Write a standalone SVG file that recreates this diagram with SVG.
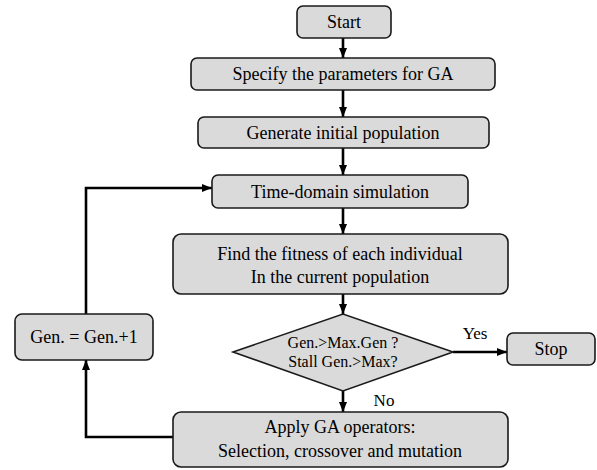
<svg xmlns="http://www.w3.org/2000/svg" width="597" height="470" viewBox="0 0 597 470">
<style>
.box{fill:#dadada;stroke:#1a1a1a;stroke-width:1.6}
.t{font-family:'Liberation Serif','DejaVu Serif',serif;font-size:18px;fill:#000;text-anchor:middle}
.s{font-size:16px}
.l{font-size:17px}
.c{fill:none;stroke:#000;stroke-width:2.6}
</style>
<defs>
<marker id="ah" markerUnits="userSpaceOnUse" markerWidth="10" markerHeight="8" refX="10" refY="4" orient="auto">
<path d="M0,0 L10,4 L0,8 z" fill="#000"/>
</marker>
</defs>
<rect width="597" height="470" fill="#fff"/>
<g id="connectors">
<path class="c" d="M343,38 V58" marker-end="url(#ah)"/>
<path class="c" d="M343,90 V117" marker-end="url(#ah)"/>
<path class="c" d="M343,148 V175" marker-end="url(#ah)"/>
<path class="c" d="M343,208 V234" marker-end="url(#ah)"/>
<path class="c" d="M343,294 V314" marker-end="url(#ah)"/>
<path class="c" d="M343,391 V412" marker-end="url(#ah)"/>
<path class="c" d="M453,352 H507" marker-end="url(#ah)"/>
<path class="c" d="M173,437 H86 V360" marker-end="url(#ah)"/>
<path class="c" d="M86,314 V188 H212" marker-end="url(#ah)"/>
<text class="t l" x="475" y="339" font-family="Liberation Serif, DejaVu Serif, serif">Yes</text>
<text class="t l" x="384" y="406" font-family="Liberation Serif, DejaVu Serif, serif">No</text>
</g>
<g id="start">
<rect class="box" x="297" y="6" width="94" height="32" rx="6"/>
<text class="t" x="344" y="28">Start</text>
</g>
<g id="specify">
<rect class="box" x="191" y="58" width="304" height="32" rx="6"/>
<text class="t" x="343" y="80">Specify the parameters for GA</text>
</g>
<g id="generate">
<rect class="box" x="198" y="117" width="291" height="31" rx="6"/>
<text class="t" x="343" y="138.5">Generate initial population</text>
</g>
<g id="timedomain">
<rect class="box" x="212" y="175" width="256" height="33" rx="6"/>
<text class="t" x="340" y="197.5">Time-domain simulation</text>
</g>
<g id="fitness">
<rect class="box" x="173" y="234" width="335" height="60" rx="8"/>
<text class="t" x="340" y="260">Find the fitness of each individual</text>
<text class="t" x="340" y="283">In the current population</text>
</g>
<g id="decision">
<polygon class="box" points="233,352 343,314 453,352 343,391"/>
<text class="t s" x="343" y="348">Gen.&gt;Max.Gen ?</text>
<text class="t s" x="343" y="367">Stall Gen.&gt;Max?</text>
</g>
<g id="stop">
<rect class="box" x="507" y="333" width="88" height="32" rx="6"/>
<text class="t" x="551" y="355">Stop</text>
</g>
<g id="gen">
<rect class="box" x="15" y="314" width="138" height="46" rx="7"/>
<text class="t" x="84" y="343">Gen. = Gen.+1</text>
</g>
<g id="apply">
<rect class="box" x="173" y="412" width="335" height="55" rx="8"/>
<text class="t" x="340" y="433">Apply GA operators:</text>
<text class="t" x="340" y="457">Selection, crossover and mutation</text>
</g>
</svg>
